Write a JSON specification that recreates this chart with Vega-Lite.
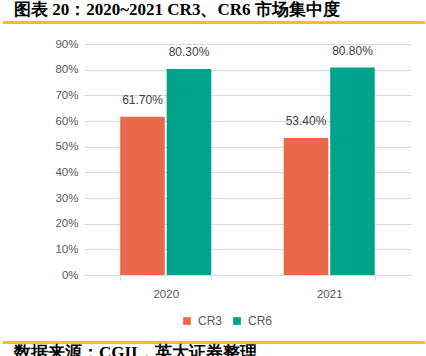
{
  "$schema": "https://vega.github.io/schema/vega-lite/v6.json",
  "padding": {"left": 3, "top": 0, "right": 3, "bottom": 0},
  "spacing": 14,
  "resolve": {"scale": {"color": "independent"}, "legend": {"color": "independent"}},
  "config": {"view": {"stroke": null}, "font": "Liberation Sans"},
  "datasets": {
    "cr": [
      {"year": "2020", "series": "CR3", "value": 0.617},
      {"year": "2020", "series": "CR6", "value": 0.803},
      {"year": "2021", "series": "CR3", "value": 0.534},
      {"year": "2021", "series": "CR6", "value": 0.808}
    ]
  },
  "vconcat": [
    {
      "width": 420,
      "height": 1,
      "view": {"stroke": "#FFC000", "strokeWidth": 2},
      "title": {"text": "图表 20：2020~2021 CR3、CR6 市场集中度", "anchor": "start", "font": "Liberation Serif", "fontSize": 17, "fontWeight": "bold", "color": "#000000", "offset": 3, "dx": 10},
      "data": {"values": []},
      "mark": "point"
    },
    {
      "spacing": 0,
      "hconcat": [
        {
          "width": 1,
          "height": 1,
          "data": {"values": []},
          "mark": "point"
        },
        {
          "width": 327,
          "height": 231,
          "data": {"name": "cr"},
          "encoding": {
            "x": {"field": "year", "type": "nominal", "title": null,
              "scale": {"paddingInner": 0.443, "paddingOuter": 0.2215},
              "axis": {"labelAngle": 0, "tickBand": "extent", "domainColor": "#D9D9D9", "tickColor": "#D9D9D9", "tickSize": 5, "labelColor": "#595959", "labelFontSize": 11.5, "labelPadding": 8}},
            "xOffset": {"field": "series", "type": "nominal", "scale": {"paddingInner": 0.04, "paddingOuter": 0}},
            "y": {"field": "value", "type": "quantitative", "title": null,
              "scale": {"domain": [0, 0.9]},
              "axis": {"values": [0, 0.1, 0.2, 0.3, 0.4, 0.5, 0.6, 0.7, 0.8, 0.9], "format": ".0%", "domain": false, "ticks": false, "gridColor": "#D9D9D9", "labelColor": "#595959", "labelFontSize": 11.5, "labelPadding": 6, "minExtent": 79}}
          },
          "layer": [
            {
              "mark": {"type": "bar"},
              "encoding": {
                "color": {"field": "series", "type": "nominal", "title": null,
                  "scale": {"domain": ["CR3", "CR6"], "range": ["#EB694B", "#00A38A"]},
                  "legend": {"orient": "none", "legendX": 177, "legendY": 271, "padding": 0, "direction": "horizontal", "symbolType": "square", "symbolSize": 60, "labelFontSize": 12, "labelColor": "#595959", "labelOffset": 5, "columnPadding": 8}}
              }
            },
            {
              "mark": {"type": "text", "baseline": "middle", "dy": -17, "fontSize": 12, "color": "#404040"},
              "encoding": {"text": {"field": "value", "type": "quantitative", "format": ".2%"}}
            }
          ]
        }
      ]
    },
    {
      "width": 420,
      "height": 1,
      "view": {"stroke": "#FFC000", "strokeWidth": 2},
      "title": {"text": "数据来源：CGII，英大证券整理", "orient": "bottom", "anchor": "start", "font": "Liberation Serif", "fontSize": 17, "fontWeight": "bold", "color": "#000000", "offset": 2, "dx": 10},
      "data": {"values": []},
      "mark": "point"
    }
  ]
}
